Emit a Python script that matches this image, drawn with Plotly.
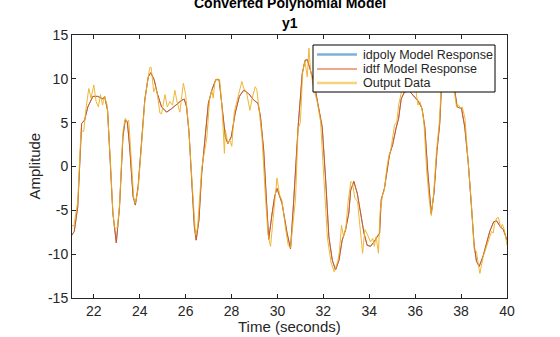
import plotly.graph_objects as go

# Model response (idpoly and idtf are identical)
model_t = [21.0, 21.15, 21.3, 21.47, 21.6, 21.74, 21.96, 22.17, 22.4, 22.47, 22.6, 22.73, 22.83, 22.98,
           23.12, 23.27, 23.37, 23.46, 23.56, 23.71, 23.81, 23.93, 24.07, 24.22, 24.37, 24.48, 24.63,
           24.77, 24.95, 25.17, 25.39, 25.6, 25.8, 25.94, 26.04, 26.15, 26.26, 26.38, 26.46, 26.58,
           26.7, 26.85, 26.99, 27.14, 27.31, 27.46, 27.58, 27.73, 27.84, 27.99, 28.16, 28.34, 28.53,
           28.75, 28.96, 29.15, 29.26, 29.4, 29.52, 29.62, 29.77, 29.88, 29.98, 30.2, 30.42, 30.57,
           30.71, 30.9, 31.08, 31.2, 31.3, 31.44, 31.6, 31.73, 31.95, 32.1, 32.24, 32.39, 32.53,
           32.68, 32.82, 32.97, 33.11, 33.19, 33.33, 33.48, 33.62, 33.77, 33.91, 34.06, 34.2, 34.35,
           34.45, 34.52, 34.66, 34.88, 35.02, 35.17, 35.28, 35.39, 35.53, 35.75, 36.0, 36.15, 36.3,
           36.42, 36.55, 36.7, 36.82, 36.95, 37.07, 37.14, 37.3, 37.45, 37.6, 37.72, 37.83, 38.02,
           38.16, 38.31, 38.45, 38.57, 38.67, 38.79, 38.96, 39.11, 39.25, 39.42, 39.55, 39.69, 39.84, 40.0]
model_y = [-8.0, -7.4, -4.6, 4.9, 5.3, 6.8, 8.0, 8.0, 7.7, 8.0, 6.4, 0.0, -5.3, -8.7,
           -4.6, 3.4, 5.3, 5.1, 2.3, -3.4, -4.4, -2.3, 3.0, 7.6, 10.2, 10.7, 9.9,
           8.3, 6.8, 6.2, 6.6, 7.1, 7.5, 7.7, 6.8, 3.8, -1.5, -6.9, -8.4, -6.1,
           -0.8, 3.0, 7.2, 8.7, 9.9, 9.9, 6.8, 3.4, 2.6, 3.4, 6.1, 8.0, 8.7,
           8.3, 7.6, 7.2, 5.7, 1.9, -3.8, -8.3, -5.3, -3.4, -2.5, -4.2, -7.6, -9.4,
           -3.8, 4.5, 10.6, 12.1, 12.2, 11.0, 9.5, 7.6, 4.5, -1.5, -8.0, -10.7, -11.8,
           -10.7, -8.4, -7.2, -5.3, -2.7, -1.7, -3.1, -5.3, -7.6, -9.0, -9.1, -8.6, -7.9,
           -7.6, -3.8, -2.5, 1.3, 2.5, 4.4, 5.5, 7.7, 8.5, 8.6, 7.9, 7.4, 6.6,
           4.5, -0.6, -5.4, -3.0, 1.8, 4.9, 8.8, 10.6, 11.0, 10.0, 8.7, 6.8, 6.6,
           4.5, 0.5, -4.5, -9.0, -10.8, -11.4, -10.2, -8.8, -7.4, -6.3, -6.2, -6.8, -7.2, -8.4]

# Measured output data
out_t = [21.0, 21.04, 21.13, 21.3, 21.44, 21.56, 21.66, 21.78, 21.88, 22.0, 22.1, 22.2, 22.29, 22.38,
         22.47, 22.58, 22.72, 22.83, 22.9, 23.03, 23.12, 23.27, 23.37, 23.46, 23.52, 23.63, 23.74,
         23.81, 23.93, 24.07, 24.22, 24.34, 24.44, 24.5, 24.61, 24.69, 24.77, 24.88, 24.95, 25.1,
         25.2, 25.31, 25.43, 25.53, 25.64, 25.75, 25.9, 26.0, 26.13, 26.3, 26.43, 26.52, 26.7, 26.92,
         27.05, 27.14, 27.2, 27.28, 27.36, 27.48, 27.58, 27.69, 27.73, 27.84, 27.92, 28.01, 28.12,
         28.23, 28.35, 28.45, 28.53, 28.65, 28.8, 28.9, 29.03, 29.1, 29.18, 29.33, 29.47, 29.59,
         29.7, 29.77, 29.88, 29.98, 30.09, 30.2, 30.35, 30.47, 30.57, 30.67, 30.79, 30.9, 31.0,
         31.1, 31.2, 31.3, 31.37, 31.44, 31.58, 31.73, 31.88, 32.03, 32.18, 32.33, 32.47, 32.62,
         32.7, 32.79, 32.88, 32.98, 33.08, 33.2, 33.27, 33.37, 33.49, 33.6, 33.71, 33.81, 33.93,
         34.05, 34.15, 34.22, 34.3, 34.4, 34.47, 34.58, 34.66, 34.76, 34.86, 34.93, 35.0, 35.1,
         35.2, 35.28, 35.4, 35.52, 35.7, 35.9, 36.02, 36.12, 36.2, 36.28, 36.38, 36.5, 36.62, 36.7,
         36.8, 36.92, 37.05, 37.14, 37.3, 37.45, 37.6, 37.72, 37.8, 37.9, 37.97, 38.05, 38.17,
         38.3, 38.45, 38.57, 38.67, 38.74, 38.82, 38.96, 39.11, 39.2, 39.33, 39.4, 39.46, 39.55,
         39.62, 39.73, 39.8, 39.9, 40.0]
out_y = [-9.0, -6.7, -6.8, -4.0, 4.0, 4.0, 6.6, 8.9, 7.8, 9.3, 7.4, 6.8, 8.2, 7.0,
         8.0, 7.0, 0.8, -5.2, -7.0, -7.0, -4.4, 4.0, 5.5, 5.1, 5.3, 0.5, -3.6,
         -4.2, -2.6, 2.1, 7.4, 9.7, 11.3, 11.3, 8.5, 9.1, 8.2, 6.1, 6.0, 8.2,
         6.8, 7.4, 7.0, 8.7, 7.2, 6.2, 9.5, 8.2, 4.5, -2.5, -7.8, -7.0, -0.2, 3.2,
         7.8, 8.7, 7.8, 9.7, 10.0, 9.9, 7.0, 1.5, 4.2, 2.6, 3.0, 2.3, 6.2,
         7.4, 8.5, 9.7, 8.9, 8.5, 6.4, 7.8, 9.1, 8.8, 7.0, 3.2, -3.2, -7.8,
         -9.1, -7.0, -4.0, -1.3, -3.2, -3.9, -7.0, -9.0, -9.3, -7.0, -3.6, 4.4, 5.0,
         10.8, 12.0, 10.2, 13.5, 11.0, 8.9, 7.4, 5.1, -1.7, -8.2, -10.9, -12.0, -10.9,
         -9.7, -6.7, -8.0, -7.0, -4.0, -1.7, -1.9, -3.6, -4.0, -7.0, -9.9, -7.2, -7.8,
         -8.6, -8.2, -9.1, -8.0, -9.9, -5.2, -3.2, -2.7, -0.2, 1.3, 1.8, 3.2, 4.7,
         5.1, 7.0, 8.5, 9.1, 8.8, 9.3, 8.9, 7.0, 7.4, 6.8, 5.1, -0.5, -4.0, -5.6,
         -3.3, 1.5, 5.0, 9.2, 11.0, 11.5, 10.5, 8.5, 6.8, 7.0, 6.6, 6.8, 5.5,
         0.8, -4.2, -9.5, -9.7, -11.0, -12.2, -10.3, -9.1, -8.4, -7.4, -7.6, -6.5, -5.9,
         -5.8, -7.0, -6.6, -7.4, -9.0]

x_ticks = [22, 24, 26, 28, 30, 32, 34, 36, 38, 40]
y_ticks = [-15, -10, -5, 0, 5, 10, 15]
y_ticktext = [str(v) for v in y_ticks]   # plain hyphen minus as in the reference

series_names = ["idpoly Model Response", "idtf Model Response", "Output Data"]
plot_colors = ["rgb(118,168,214)", "#D95319", "#EDB120"]
legend_colors = ["rgb(125,176,218)", "#D95319", "rgb(245,212,125)"]
legend_widths = [2.5, 1.2, 2.5]

axis_color = "#262626"
font_family = "Liberation Sans, Arial, sans-serif"

# plot area in pixels
L, R, T, B = 72, 507, 35, 298
W, H = R - L, B - T
def px_x(p):
    return (p - L) / W
def px_y(p):
    return (B - p) / H

fig = go.Figure()
fig.add_trace(go.Scatter(x=model_t, y=model_y, mode="lines", name=series_names[0],
                         line=dict(color=plot_colors[0], width=1)))
fig.add_trace(go.Scatter(x=model_t, y=model_y, mode="lines", name=series_names[1],
                         line=dict(color=plot_colors[1], width=1)))
fig.add_trace(go.Scatter(x=out_t, y=out_y, mode="lines", name=series_names[2],
                         line=dict(color=plot_colors[2], width=1), opacity=0.9))

# Legend drawn as a MATLAB-style compact box
shapes = [dict(type="rect", xref="paper", yref="paper",
               x0=px_x(313), x1=px_x(495), y0=px_y(92), y1=px_y(45),
               fillcolor="white", line=dict(color="black", width=1), layer="above")]
annotations = []
rows = [54.5, 69.0, 83.0]
for name, col, w, yy in zip(series_names, legend_colors, legend_widths, rows):
    shapes.append(dict(type="line", xref="paper", yref="paper",
                       x0=px_x(317), x1=px_x(357), y0=px_y(yy), y1=px_y(yy),
                       line=dict(color=col, width=w), layer="above"))
    annotations.append(dict(text=name, xref="paper", yref="paper", x=px_x(361), y=px_y(yy),
                            xanchor="left", yanchor="middle", showarrow=False,
                            font=dict(size=12.5, color=axis_color)))

annotations += [
    dict(text="<b>Converted Polynomial Model</b>", xref="paper", yref="paper",
         x=0.5, y=px_y(3), yanchor="middle", showarrow=False, font=dict(size=14, color="black")),
    dict(text="<b>y1</b>", xref="paper", yref="paper", x=0.5, y=px_y(23), yanchor="middle",
         showarrow=False, font=dict(size=14, color="black")),
    dict(text="Time (seconds)", xref="paper", yref="paper", x=0.5, y=px_y(326), yanchor="middle",
         showarrow=False, font=dict(size=15, color=axis_color)),
    dict(text="Amplitude", xref="paper", yref="paper", x=px_x(34), y=0.5, textangle=-90,
         xanchor="center", yanchor="middle", showarrow=False, font=dict(size=15, color=axis_color)),
]

fig.update_layout(
    width=560, height=337,
    margin=dict(l=L, r=560 - R, t=T, b=337 - B),
    paper_bgcolor="white", plot_bgcolor="white",
    font=dict(family=font_family, color=axis_color, size=12),
    showlegend=False,
    shapes=shapes,
    annotations=annotations,
)

fig.update_xaxes(range=[21.05, 40], tickvals=x_ticks, ticks="inside", ticklen=4,
                 tickcolor=axis_color, showline=True, linecolor=axis_color, linewidth=1,
                 mirror="ticks", showgrid=False, zeroline=False, automargin=False,
                 tickfont=dict(size=14, color=axis_color))
fig.update_yaxes(range=[-15, 15], tickvals=y_ticks, ticktext=y_ticktext, ticks="inside", ticklen=4,
                 tickcolor=axis_color, showline=True, linecolor=axis_color, linewidth=1,
                 mirror="ticks", showgrid=False, zeroline=False, automargin=False,
                 tickfont=dict(size=14, color=axis_color))

fig.write_html("out.html")
